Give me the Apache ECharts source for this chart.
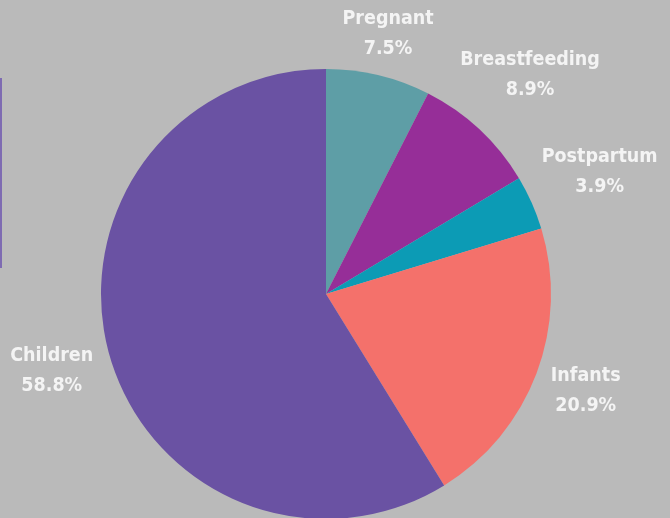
<!DOCTYPE html>
<html>
<head>
<meta charset="utf-8">
<script src="https://cdn.jsdelivr.net/npm/echarts@6/dist/echarts.min.js"></script>
<style>
  html, body { margin: 0; padding: 0; background: #bababa; }
  #chart { width: 670px; height: 518px; }
</style>
</head>
<body>
<div id="chart"></div>
<script>
// Share of participants by group (percent), clockwise from 12 o'clock
const categories = ['Pregnant', 'Breastfeeding', 'Postpartum', 'Infants', 'Children'];
const shares = [7.5, 8.9, 3.9, 20.9, 58.8];

// Slice colours, in category order
const sliceColors = ['#5e9ea6', '#962e98', '#0c9bb5', '#f4716b', '#6a52a3'];
// Small pixel nudges for each label around its default ring position
const labelNudge = [[-4, 15], [11, -12], [15, -7], [-5, -3], [-2, 0]];

const chart = echarts.init(document.getElementById('chart'));

const pieData = categories.map((name, i) => ({
  name: name,
  value: shares[i],
  itemStyle: { color: sliceColors[i] }
}));

// Invisible ring whose inside labels sit around the pie
const labelData = categories.map((name, i) => ({
  name: name,
  value: shares[i],
  label: { offset: labelNudge[i] }
}));

chart.setOption({
  backgroundColor: '#bababa',
  animation: false,
  graphic: [{
    type: 'rect',
    shape: { x: 0, y: 78, width: 2, height: 190 },
    style: { fill: '#7e6bb2' },
    silent: true
  }],
  series: [
    {
      type: 'pie',
      center: [326, 294],
      radius: 225,
      startAngle: 90,
      clockwise: true,
      silent: true,
      label: { show: false },
      labelLine: { show: false },
      itemStyle: { borderWidth: 0 },
      data: pieData
    },
    {
      type: 'pie',
      center: [326, 294],
      radius: [250, 310],
      startAngle: 90,
      clockwise: true,
      silent: true,
      itemStyle: { color: 'rgba(0,0,0,0)', borderWidth: 0 },
      label: {
        show: true,
        position: 'inside',
        rotate: 0,
        color: '#f4f4f4',
        fontFamily: '"DejaVu Sans Condensed", "DejaVu Sans"',
        fontWeight: 'bold',
        fontSize: 19.5,
        lineHeight: 30,
        align: 'center',
        formatter: p => p.name + '\n' + p.value.toFixed(1) + '%'
      },
      labelLine: { show: false },
      data: labelData
    }
  ]
});
</script>
</body>
</html>
